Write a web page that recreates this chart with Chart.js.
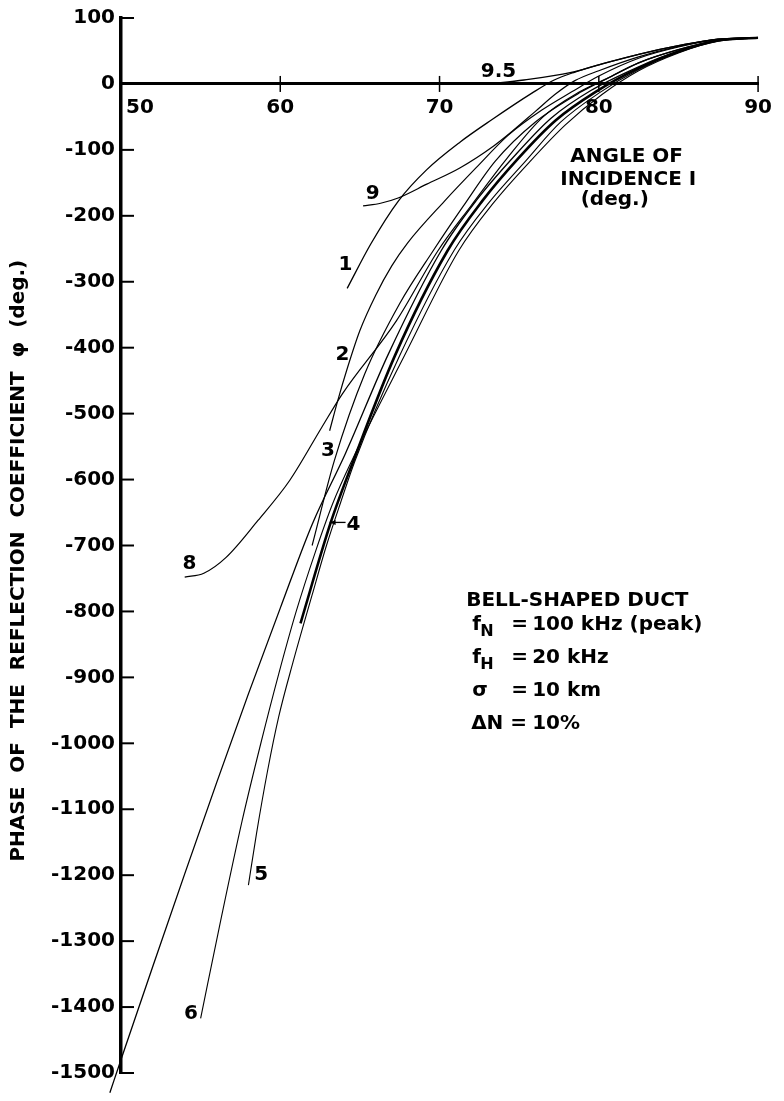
<!DOCTYPE html>
<html>
<head>
<meta charset="utf-8">
<script src="https://cdn.jsdelivr.net/npm/chart.js@4.4.1/dist/chart.umd.min.js"></script>
<style>
  html, body { margin: 0; padding: 0; background: #fff; }
  #wrap { position: relative; width: 784px; height: 1101px; }
</style>
</head>
<body>
<div id="wrap"><canvas id="phaseChart"></canvas></div>
<script>
// Phase of the reflection coefficient vs angle of incidence (bell-shaped duct)

const xTickValues = [50, 60, 70, 80, 90];
const yTickValues = [100, 0, -100, -200, -300, -400, -500, -600, -700, -800,
                     -900, -1000, -1100, -1200, -1300, -1400, -1500];

// curves: [angle (deg), phase (deg)]
const curve95 = [[73.1, 0], [75.3, 6], [78.2, 17], [80, 29], [82.5, 45], [85, 58], [87.5, 68], [90, 70]];
const curve1 = [[64.2, -310], [65.7, -242], [67.4, -178], [69.2, -130], [71.3, -88], [73.3, -54],
                [75.8, -14], [77.2, 6], [78.5, 18], [80, 29], [82.5, 45], [85, 58], [87.5, 68], [90, 70]];
const curve9 = [[65.2, -185], [66.3, -181], [67.4, -173], [69.2, -152], [71.3, -127], [73.4, -94],
                [74.6, -71], [76, -42], [77.3, -15], [78.5, 5], [80, 20], [82.5, 41], [85, 57], [87.5, 68], [90, 70]];
const curve2 = [[63.1, -526], [63.6, -481], [64.2, -432], [65, -374], [66, -320], [67, -276], [68, -241],
                [70.3, -178], [72.3, -127], [74.3, -78], [76.4, -40], [78.3, -12], [80, 12],
                [82.5, 39], [85, 56], [87.5, 67], [90, 70]];
const curve3 = [[62.0, -700], [63.4, -571], [65.3, -440], [67.5, -333], [69.6, -253], [71.5, -185],
                [73.5, -117], [76, -58], [78.9, -12], [80.5, 8], [82.5, 32], [85, 52], [87.5, 66], [90, 70]];
const curve8 = [[54.0, -748], [55.2, -742], [56.6, -718], [58.6, -662], [60.6, -601], [62.6, -521],
                [63.9, -470], [67.3, -359], [69.9, -253], [72, -184], [74.2, -114], [76.5, -50],
                [78.8, -12], [80.5, 8], [82.5, 32], [85, 52], [87.5, 66], [90, 70]];
const curve7 = [[49.3, -1530], [50.05, -1476], [52, -1338], [54, -1198], [56, -1060], [58, -925],
                [60, -795], [62, -668], [64.1, -560], [66.8, -409], [70.1, -253], [72.3, -177],
                [74.6, -112], [77, -52], [79.5, -10], [82.5, 26], [85, 50], [87.5, 66], [90, 70]];
const curve4 = [[61.27, -818], [63.17, -665], [64.6, -571], [67.2, -412], [70.5, -253], [72.7, -177],
                [74.9, -114], [77.3, -55], [79.8, -12], [82.5, 24], [85, 49], [87.5, 66], [90, 70]];
const curve5 = [[58.0, -1215], [58.5, -1138], [59.2, -1042], [59.9, -960], [60.8, -877], [62.0, -775],
                [62.9, -700], [63.8, -634], [64.7, -571], [67.5, -412], [70.9, -253], [73.1, -180],
                [75.4, -117], [77.6, -58], [80.0, -14], [82.5, 22], [85, 48], [87.5, 65], [90, 70]];
const curve6 = [[55.0, -1417], [56.3, -1264], [57.6, -1118], [58.8, -998], [59.9, -895], [61.0, -800],
                [62.2, -710], [63.3, -636], [64.5, -571], [67.8, -412], [71.2, -253], [73.4, -180],
                [75.7, -117], [77.9, -62], [80.2, -16], [82.5, 20], [85, 47], [87.5, 65], [90, 70]];

// curve labels (data coordinates)
const labelText = ['9.5', '9', '1', '2', '3', '4', '5', '6', '8'];
const labelX = [73.7, 65.8, 64.1, 63.9, 63.0, 64.6, 58.8, 54.4, 54.3];
const labelY = [19, -166, -275, -411, -556, -669, -1199, -1410, -728];

const FONT = '"DejaVu Sans", sans-serif';

function toPoints(arr) {
    return arr.map(p => ({ x: p[0], y: p[1] }));
}

function curve(name, arr, width, extra) {
    return Object.assign({
        label: name,
        data: toPoints(arr),
        borderColor: '#000',
        borderWidth: width,
        pointRadius: 0,
        fill: false,
        cubicInterpolationMode: 'monotone'
    }, extra || {});
}

const decorations = {
    id: 'decorations',
    afterDraw(chart) {
        const { ctx, scales: { x, y } } = chart;
        ctx.save();
        ctx.strokeStyle = '#000';
        ctx.fillStyle = '#000';

        // y ticks point into the plot
        ctx.lineWidth = 2;
        y.ticks.forEach(t => {
            const py = y.getPixelForValue(t.value);
            ctx.beginPath();
            ctx.moveTo(x.left, py);
            ctx.lineTo(x.left + 13, py);
            ctx.stroke();
        });

        // x ticks cross the axis line
        const y0 = y.getPixelForValue(0);
        ctx.lineWidth = 1.5;
        x.ticks.forEach(t => {
            if (t.value === 50) return;
            const px = x.getPixelForValue(t.value);
            ctx.beginPath();
            ctx.moveTo(px, y0 - 8);
            ctx.lineTo(px, y0 + 8);
            ctx.stroke();
        });

        // curve numbers
        ctx.font = 'bold 20px ' + FONT;
        ctx.textAlign = 'center';
        ctx.textBaseline = 'middle';
        labelText.forEach((s, i) => {
            ctx.fillText(s, x.getPixelForValue(labelX[i]), y.getPixelForValue(labelY[i]));
        });

        // little arrow from label 4 to its curve
        const ay = y.getPixelForValue(-665);
        const ax1 = x.getPixelForValue(63.1), ax2 = x.getPixelForValue(64.1);
        ctx.lineWidth = 1.3;
        ctx.beginPath();
        ctx.moveTo(ax1, ay);
        ctx.lineTo(ax2, ay);
        ctx.stroke();
        ctx.beginPath();
        ctx.moveTo(ax1, ay);
        ctx.lineTo(ax1 + 6, ay - 2.5);
        ctx.lineTo(ax1 + 6, ay + 2.5);
        ctx.closePath();
        ctx.fill();

        // x axis title
        ctx.textBaseline = 'alphabetic';
        ctx.fillText('ANGLE OF', x.getPixelForValue(81.75), y.getPixelForValue(-119));
        ctx.fillText('INCIDENCE I', x.getPixelForValue(81.85), y.getPixelForValue(-154));
        ctx.fillText('(deg.)', x.getPixelForValue(81.0), y.getPixelForValue(-184));

        // y axis title
        ctx.save();
        ctx.translate(19, y.getPixelForValue(-723));
        ctx.rotate(-Math.PI / 2);
        ctx.textBaseline = 'middle';
        ctx.fillText('PHASE  OF  THE  REFLECTION  COEFFICIENT  \u03C6  (deg.)', 0, 0);
        ctx.restore();

        // parameter block
        const bx = x.getPixelForValue(71.67);
        const by = y.getPixelForValue(-791);
        ctx.textAlign = 'left';
        ctx.textBaseline = 'alphabetic';
        ctx.fillText('BELL-SHAPED DUCT', bx, by);

        const rows = [
            { sym: 'f', sub: 'N', val: '100 kHz (peak)', dy: 24 },
            { sym: 'f', sub: 'H', val: '20 kHz', dy: 57 },
            { sym: '\u03C3', sub: '', val: '10 km', dy: 90 }
        ];
        rows.forEach(r => {
            ctx.font = 'bold 20px ' + FONT;
            ctx.fillText(r.sym, bx + 6, by + r.dy);
            if (r.sub) {
                ctx.font = 'bold 16px ' + FONT;
                ctx.fillText(r.sub, bx + 14, by + r.dy + 6);
            }
            ctx.font = 'bold 20px ' + FONT;
            ctx.fillText('=', bx + 45, by + r.dy);
            ctx.fillText(r.val, bx + 66, by + r.dy);
        });
        ctx.fillText('\u0394N', bx + 5, by + 123);
        ctx.fillText('=', bx + 44, by + 123);
        ctx.fillText('10%', bx + 66, by + 123);

        ctx.restore();
    }
};

const ctxEl = document.getElementById('phaseChart');

new Chart(ctxEl, {
    type: 'line',
    data: {
        datasets: [
            curve('9.5', curve95, 1.3),
            curve('1', curve1, 1.3),
            curve('9', curve9, 1.2),
            curve('2', curve2, 1.2),
            curve('3', curve3, 1.2),
            curve('8', curve8, 1.2),
            curve('7', curve7, 1.3, { clip: false }),
            curve('4', curve4, 2.6),
            curve('5', curve5, 1.1),
            curve('6', curve6, 1.1)
        ]
    },
    options: {
        responsive: true,
        maintainAspectRatio: false,
        devicePixelRatio: 1,
        animation: false,
        layout: { padding: { left: 0, top: 17, right: 15, bottom: 28 } },
        plugins: {
            legend: { display: false },
            tooltip: { enabled: false }
        },
        scales: {
            x: {
                type: 'linear',
                position: { y: 0 },
                min: 50,
                max: 90,
                afterBuildTicks: (scale) => { scale.ticks = xTickValues.map(v => ({ value: v })); },
                grid: { display: false, drawTicks: false },
                border: { display: true, color: '#000', width: 3 },
                ticks: {
                    color: '#000',
                    padding: 12,
                    maxRotation: 0,
                    font: { family: FONT, size: 20, weight: 'bold' },
                    callback: (v) => v === 50 ? '\u2007\u2007\u2002' + v : String(v)
                }
            },
            y: {
                type: 'linear',
                min: -1500,
                max: 100,
                afterBuildTicks: (scale) => { scale.ticks = yTickValues.map(v => ({ value: v })); },
                afterFit: (scale) => { scale.width = 121; },
                grid: { display: false, drawTicks: false },
                border: { display: true, color: '#000', width: 3.5 },
                ticks: {
                    color: '#000',
                    padding: 6,
                    font: { family: FONT, size: 20, weight: 'bold' },
                    callback: (v) => String(v)
                }
            }
        }
    },
    plugins: [decorations]
});
</script>
</body>
</html>
